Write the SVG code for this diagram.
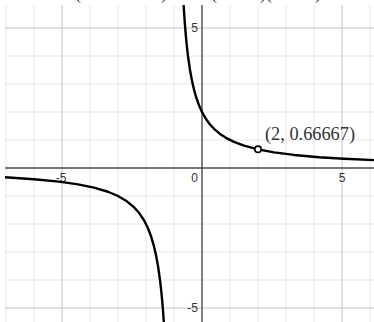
<svg xmlns="http://www.w3.org/2000/svg" width="374" height="322" viewBox="0 0 374 322">
<style>
.minor{stroke:#e6e6e6;stroke-width:1}
.major{stroke:#c4c4c4;stroke-width:1}
.axis{stroke:#4a4a4a;stroke-width:1.4}
.tick{font-family:"Liberation Sans",Arial,sans-serif;font-size:12px;fill:#333}
.curve{fill:none;stroke:#000;stroke-width:2.4;stroke-linejoin:round;stroke-linecap:round}
.math{font-family:"Liberation Serif","Times New Roman",serif;font-size:18px;fill:#333}
</style>
<defs>
<clipPath id="plot"><rect x="5" y="5" width="369" height="317"/></clipPath>
</defs>
<rect width="374" height="322" fill="#fff"/>
<g id="grid" clip-path="url(#plot)">
<g class="minor">
<line x1="6" y1="5" x2="6" y2="322"/><line x1="34" y1="5" x2="34" y2="322"/><line x1="90" y1="5" x2="90" y2="322"/><line x1="118" y1="5" x2="118" y2="322"/><line x1="146" y1="5" x2="146" y2="322"/><line x1="174" y1="5" x2="174" y2="322"/><line x1="230" y1="5" x2="230" y2="322"/><line x1="258" y1="5" x2="258" y2="322"/><line x1="286" y1="5" x2="286" y2="322"/><line x1="314" y1="5" x2="314" y2="322"/><line x1="370" y1="5" x2="370" y2="322"/>
<line x1="5" y1="56" x2="374" y2="56"/><line x1="5" y1="84" x2="374" y2="84"/><line x1="5" y1="112" x2="374" y2="112"/><line x1="5" y1="140" x2="374" y2="140"/><line x1="5" y1="196" x2="374" y2="196"/><line x1="5" y1="224" x2="374" y2="224"/><line x1="5" y1="252" x2="374" y2="252"/><line x1="5" y1="280" x2="374" y2="280"/>
</g>
<g class="major">
<line x1="62" y1="5" x2="62" y2="322"/><line x1="342" y1="5" x2="342" y2="322"/>
<line x1="5" y1="28" x2="374" y2="28"/><line x1="5" y1="308" x2="374" y2="308"/>
</g>
<g class="axis">
<line x1="202" y1="5" x2="202" y2="322"/>
<line x1="5" y1="168" x2="374" y2="168"/>
</g>
</g>
<g id="ticks" class="tick">
<text x="198" y="32" text-anchor="end">5</text>
<text x="198" y="182" text-anchor="end">0</text>
<text x="198" y="312" text-anchor="end">-5</text>
<text x="61" y="182" text-anchor="middle">-5</text>
<text x="342" y="182" text-anchor="middle">5</text>
</g>
<g id="curve" clip-path="url(#plot)">
<polyline class="curve" points="183.62,5 184,11.2 185,25.45 186,37.33 187,47.38 188,56 190,70 192,80.89 194,89.6 196,96.73 199,105.28 202,112 206,119 210,124.44 214,128.8 220,133.91 226,137.85 234,141.87 244,145.6 258,149.33 274,152.32 294,154.93 319,157.19 344,158.78 374,160.16"/>
<polyline class="curve" points="5,177.28 34,179.2 59,181.63 78,184.33 94,187.6 108,191.76 118,196 126,200.67 134,207.2 139,212.8 144,220.27 148,228.31 151,236.17 154,246.4 156,255.11 158,266 160,280 161,288.62 162,298.67 163,310.55 163.82,322"/>
</g>
<g id="point">
<circle cx="258" cy="149.33" r="3.2" fill="#fff" stroke="#000" stroke-width="1.6"/>
<text class="math" x="265" y="140" textLength="90" lengthAdjust="spacingAndGlyphs">(2, 0.66667)</text>
</g>
<g id="title" class="math">
<text x="75" y="-1">(</text>
<text x="161" y="-1">)</text>
<text x="211" y="-1">(</text>
<text x="260" y="-1">)(</text>
<text x="315" y="-1">)</text>
</g>
</svg>
